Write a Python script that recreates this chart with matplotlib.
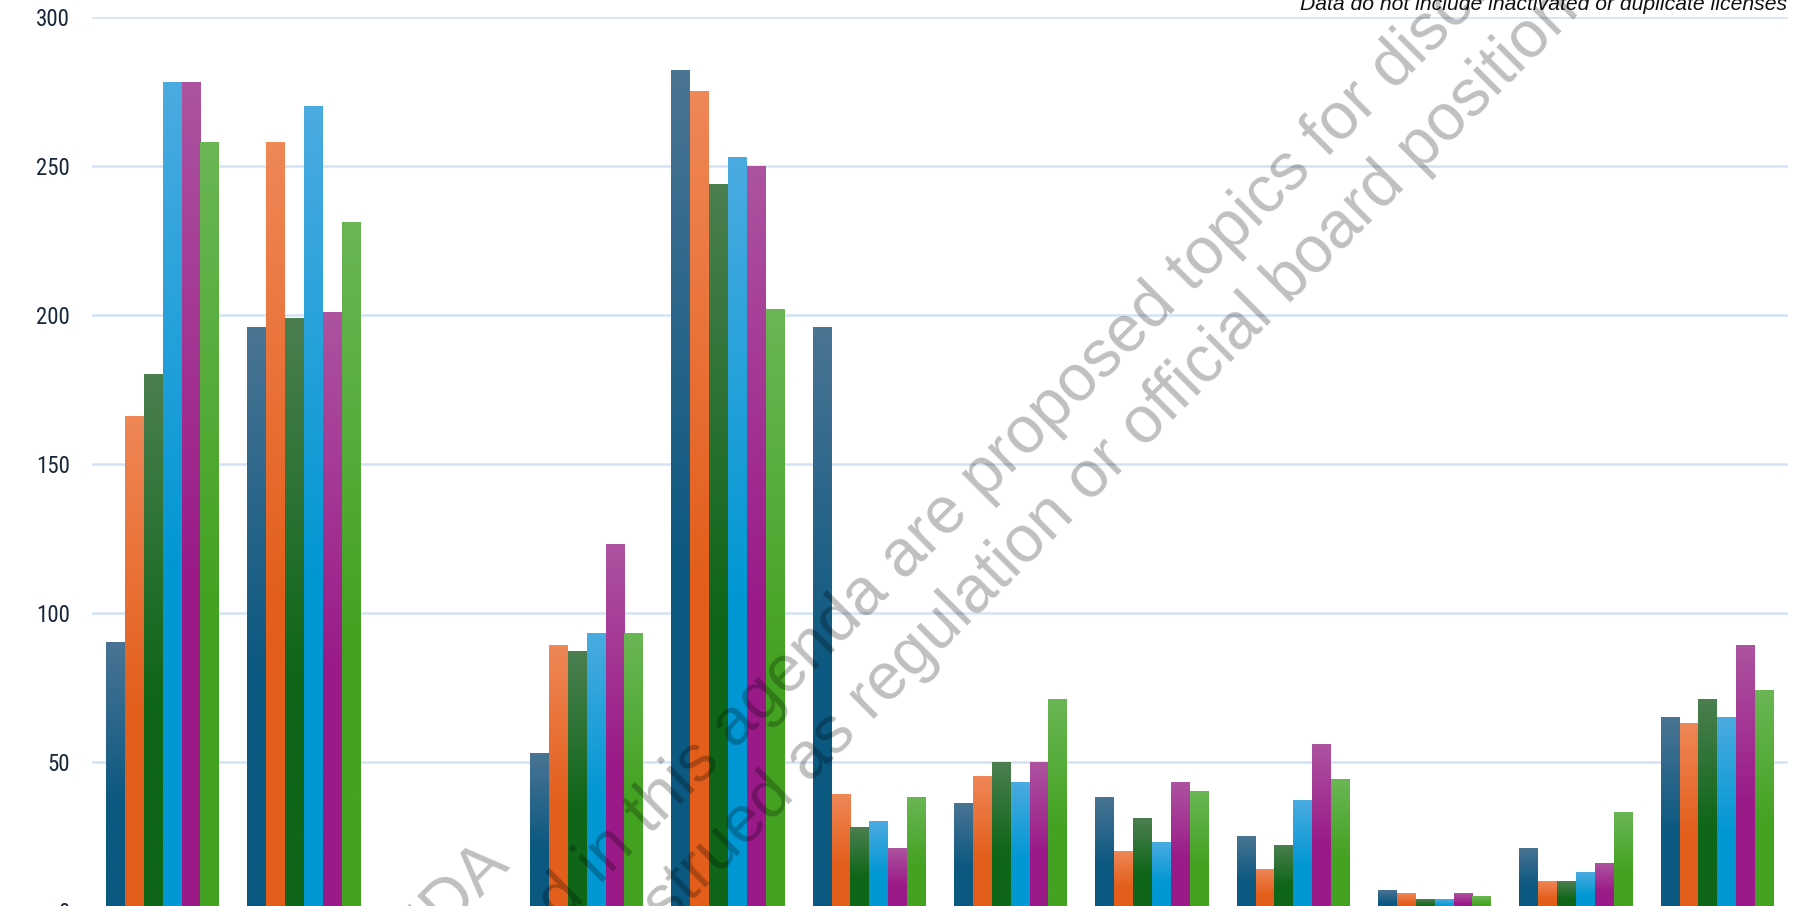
import numpy as np
import matplotlib
matplotlib.use("Agg")
import matplotlib.pyplot as plt
from matplotlib.colors import LinearSegmentedColormap
from matplotlib import font_manager

# values per group (12 groups, third group has no data)
groups = np.arange(12)
s1 = [90, 196, 0, 53, 282, 196, 36, 38, 25, 7, 21, 65]
s2 = [166, 258, 0, 89, 275, 39, 45, 20, 14, 6, 10, 63]
s3 = [180, 199, 0, 87, 244, 28, 50, 31, 22, 4, 10, 71]
s4 = [278, 270, 0, 93, 253, 30, 43, 23, 37, 4, 13, 65]
s5 = [278, 201, 0, 123, 250, 21, 50, 43, 56, 6, 16, 89]
s6 = [258, 231, 0, 93, 202, 38, 71, 40, 44, 5, 33, 74]
series = [s1, s2, s3, s4, s5, s6]

yticks = [0, 50, 100, 150, 200, 250, 300]
note = "Data do not include inactivated or duplicate licenses"
watermark = ["DRAFT AGENDA",
             "Items listed in this agenda are proposed topics for discussion",
             "and should not be construed as regulation or official board position"]

# gradient colours, top -> bottom
top_colors = ['#4a7494', '#ef8757', '#4b7f50', '#4aabe0', '#ad53a0', '#6ab654']
bottom_colors = ['#0b5880', '#e35e1b', '#0f6618', '#0097d4', '#9a1a88', '#44a222']

# narrow font for the tick labels if one is around
names = {f.name for f in font_manager.fontManager.ttflist}
tick_font, tick_size = 'Liberation Sans', 15
for cand in ['Liberation Sans Narrow', 'Roboto Condensed', 'Open Sans Condensed']:
    if cand in names:
        tick_font, tick_size = cand, 16.5
        break

fig = plt.figure(figsize=(17.97, 9.06), dpi=100)
ax = fig.add_axes([0.0512, -0.0055, 0.9438, 0.9864])

w = 0.1337
grad = np.linspace(1, 0, 256).reshape(-1, 1)
for i, vals in enumerate(series):
    xs = groups + (i - 2.5) * w
    bars = ax.bar(xs, vals, width=w, color=bottom_colors[i], zorder=2, linewidth=0)
    cmap = LinearSegmentedColormap.from_list(
        f"g{i}", [(0, top_colors[i]), (0.6, bottom_colors[i]), (1, bottom_colors[i])])
    for b in bars:
        h = b.get_height()
        if h <= 0:
            continue
        x0 = b.get_x()
        ax.imshow(grad, extent=[x0, x0 + b.get_width(), 0, h], origin='lower',
                  aspect='auto', cmap=cmap, vmin=0, vmax=1, zorder=3,
                  interpolation='bilinear')

ax.set_xlim(-0.5, 11.5)
ax.set_ylim(0, 300)
ax.set_yticks(yticks)
ax.set_yticklabels([str(t) for t in yticks], fontsize=tick_size, color='#18273a',
                   family=tick_font)
ax.tick_params(axis='y', length=0, pad=16)
ax.set_xticks([])
ax.yaxis.grid(True, color='#d3e2f4', linewidth=1.8)
ax.set_axisbelow(True)
for sp in ax.spines.values():
    sp.set_visible(False)

# note at top right
fig.text(0.9945, 0.9895, note, ha='right', va='baseline', fontsize=15.2,
         style='italic', family='Liberation Sans', color='#111111')

# watermark over the chart
wm = dict(rotation=45, rotation_mode='anchor', va='baseline', fontsize=47.5,
          family='Liberation Sans', color='black', alpha=0.25, zorder=10)
fig.text(0.2850, 0.0420, watermark[0], ha='right', **wm)
fig.text(0.1952, -0.2517, watermark[1], ha='left', **wm)
fig.text(0.8800, 0.9860, watermark[2], ha='right', **wm)

fig.savefig("out.png", dpi=100)
